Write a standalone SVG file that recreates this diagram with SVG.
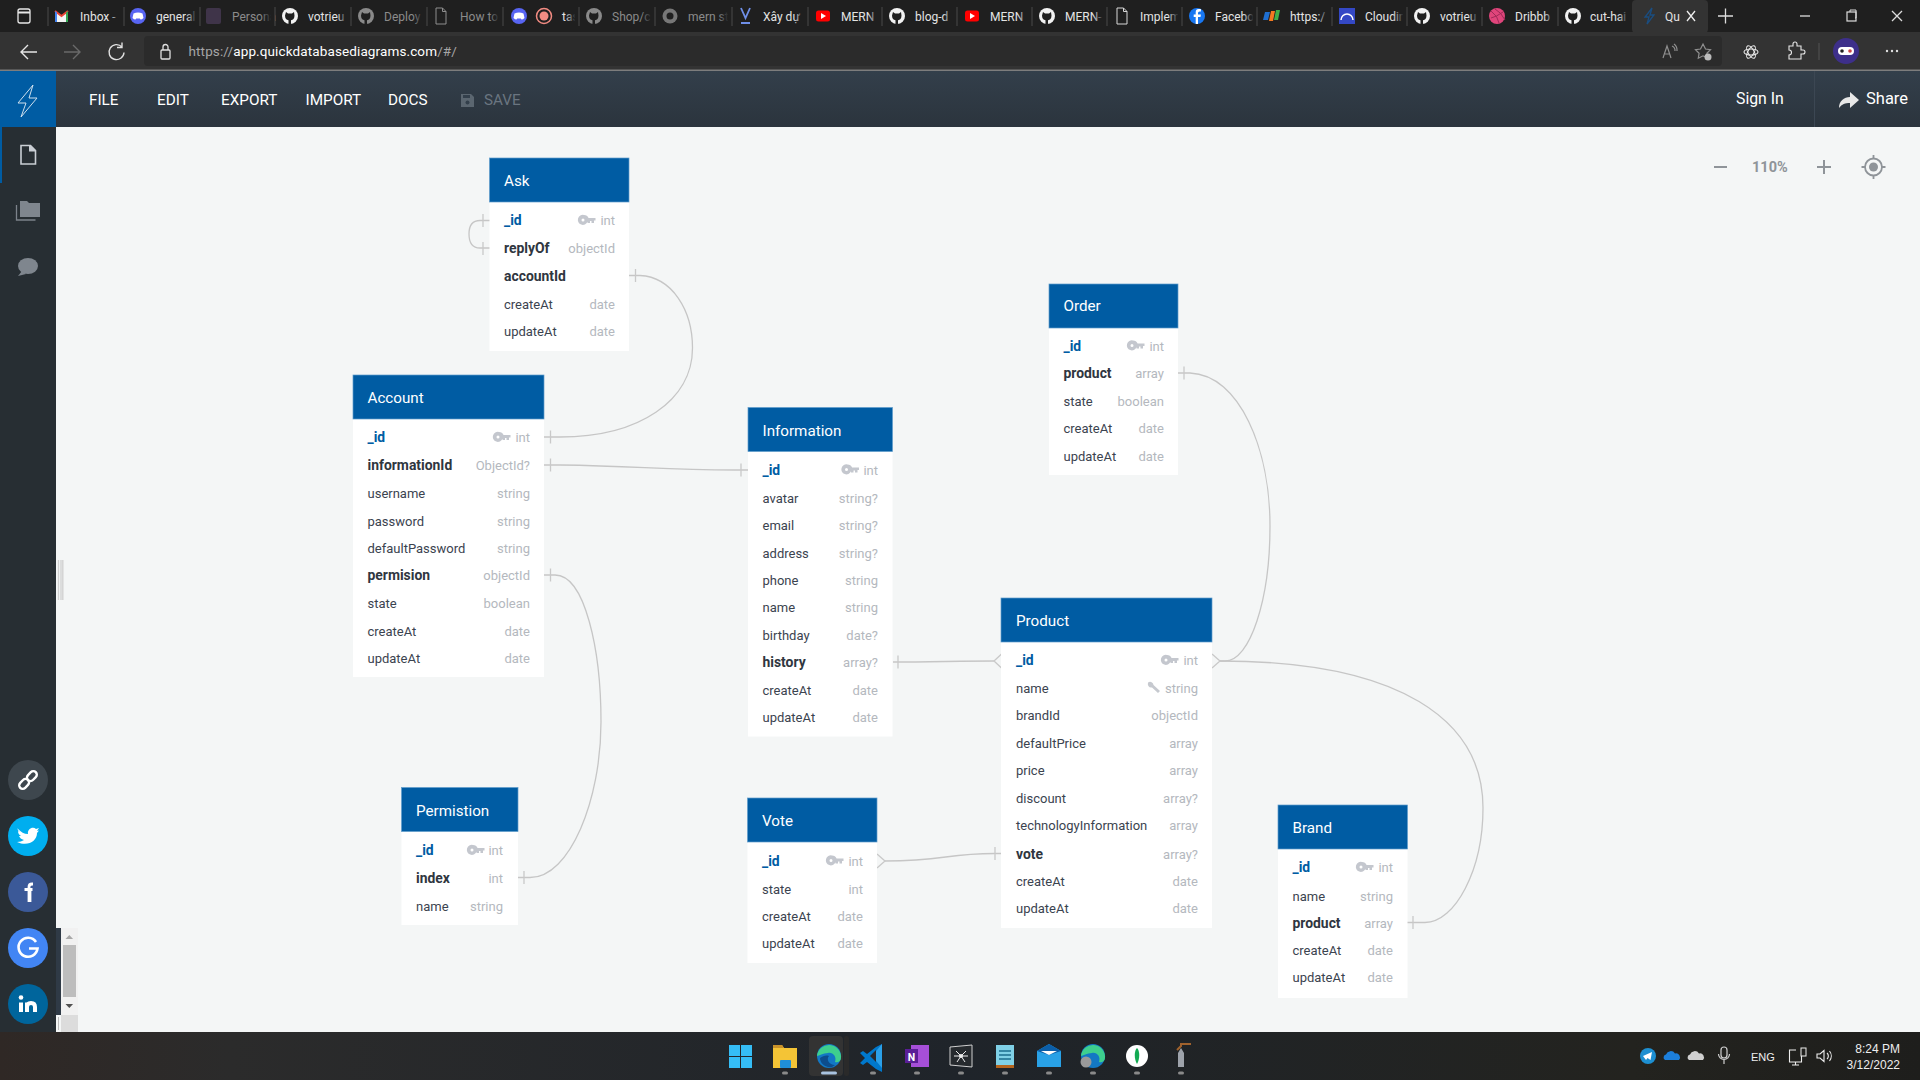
<svg xmlns="http://www.w3.org/2000/svg" xmlns:xlink="http://www.w3.org/1999/xlink" width="1920" height="1080" viewBox="0 0 1920 1080">
<style>
text{font-family:Roboto,"Liberation Sans",sans-serif}
.hd{fill:#005ca3;stroke:#5f9ccb;stroke-width:.7}
.bd{fill:#fff}
.tt{fill:#fff;font-size:15.2px}
.n{fill:#3b434f;font-size:13px}
.b{fill:#2f3640;font-size:13.9px;font-weight:700}
.p{fill:#005ca3;font-size:13.9px;font-weight:700}
.t{fill:#b4b8be;font-size:13px;text-anchor:end}
.c{fill:none;stroke:#c6c6c6;stroke-width:1.3}
.m{fill:#fff;font-size:15.3px}
.tb{fill:#e4e4e4;font-size:12px}
.td{fill:#8b8b8b;font-size:12px}
.sep{stroke:#4a4a4a;stroke-width:1}
.dot{fill:#8a8a8a}
.ti{fill:none;stroke:#c9c9c9;stroke-width:1.3}
.tr{fill:#eee;font-size:12px;font-family:"Liberation Sans",Arial,sans-serif}
</style>
<defs>
<linearGradient id="tbar" x1="0" y1="0" x2="0" y2="1"><stop offset="0" stop-color="#333f4b"/><stop offset="1" stop-color="#2b343d"/></linearGradient>
<linearGradient id="task" x1="0" y1="0" x2="1" y2="0"><stop offset="0" stop-color="#2f2825"/><stop offset=".12" stop-color="#2b2b2b"/><stop offset=".5" stop-color="#1f242a"/><stop offset=".85" stop-color="#23231f"/><stop offset="1" stop-color="#1e1e1c"/></linearGradient>
<linearGradient id="fade" x1="0" y1="0" x2="1" y2="0"><stop offset="0" stop-color="#1f1f1f" stop-opacity="0"/><stop offset=".75" stop-color="#1f1f1f"/></linearGradient>
<rect id="fd" x="-14" y="4" width="14" height="24" fill="url(#fade)"/>
<g id="key"><path fill="#c4c7ce" fill-rule="evenodd" d="M5 -.5a5 5 0 0 1 4.600 3H16.500v2.500h-1.500v2.500h-2.500V5.500h-1.500v2h-2.500V6.200A5 5 0 1 1 5 -.5zM4 3a1.500 1.500 0 1 0 0 3 1.500 1.500 0 0 0 0-3z"/></g>
<g id="gh"><circle r="8" fill="#f2f2f2"/><path d="M-4-4l2 1.500h4l2-1.500.5 3.500c0 3-1.500 4.500-3.500 4.800v3.700h-2.500v-3.700c-2-.3-3.500-1.800-3.500-4.800z" fill="#1f1f1f"/></g>
<g id="ghd"><circle r="8" fill="#8a8a8a"/><path d="M-4-4l2 1.500h4l2-1.500.5 3.500c0 3-1.500 4.500-3.500 4.800v3.700h-2.500v-3.700c-2-.3-3.500-1.800-3.500-4.800z" fill="#1f1f1f"/></g>
<g id="dc"><circle r="8" fill="#5865f2"/><path d="M-4.500-2.500q4.500-2 9 0l1 4.500q-1.500 1.500-3 1.500l-.7-1h-3.600l-.7 1q-1.500 0-3-1.500z" fill="#fff"/></g>
<g id="yt"><rect x="-7" y="-5.500" width="14" height="11" rx="2.500" fill="#f00"/><path d="M-2-3v6l5-3z" fill="#fff"/></g>
<g id="doc"><path d="M-5-8h6.500l3.500 3.500v12.500h-10z" fill="none" stroke="#d8d8d8" stroke-width="1"/><path d="M1.500-8v3.500h3.500" fill="none" stroke="#d8d8d8"/></g>
</defs>

<rect width="1920" height="1080" fill="#f4f6f6"/>

<!-- browser tabs -->
<rect width="1920" height="32" fill="#1f1f1f"/>
<g class="tabs">
<rect x="18" y="9" width="12" height="14" rx="2" fill="none" stroke="#e8e8e8" stroke-width="1.300"/><line x1="18" y1="12.500" x2="30" y2="12.500" stroke="#e8e8e8" stroke-width="2"/>
<path d="M55 22V11l6.500 5 6.500-5v11z" fill="#f4f4f4"/><path d="M55 11l6.500 5 6.500-5" fill="none" stroke="#ea4335" stroke-width="2"/><path d="M55 11v11h2V12.500z" fill="#4285f4"/><path d="M68 11v11h-2V12.500z" fill="#34a853"/>
<text class="tb" x="80" y="20.500">Inbox -</text>
<use xlink:href="#dc" href="#dc" x="138" y="16"/><text class="tb" x="156" y="20.500">general</text>
<rect x="206" y="8" width="15" height="16" rx="2" fill="#3f3449"/><text class="td" x="232" y="20.500">Persona</text>
<use xlink:href="#gh" href="#gh" x="290" y="16"/><text class="tb" x="308" y="20.500">votrieu</text>
<use xlink:href="#ghd" href="#ghd" x="366" y="16"/><text class="td" x="384" y="20.500">Deploy</text>
<use xlink:href="#doc" href="#doc" x="441" y="16" opacity=".6"/><text class="td" x="460" y="20.500">How to</text>
<use xlink:href="#dc" href="#dc" x="519" y="16"/><circle cx="544" cy="16" r="7.500" fill="none" stroke="#f28b82" stroke-width="1.500"/><circle cx="544" cy="16" r="4.500" fill="#f28b82"/><text class="tb" x="562" y="20.500">tas</text>
<use xlink:href="#ghd" href="#ghd" x="594" y="16"/><text class="td" x="612" y="20.500">Shop/c</text>
<circle cx="670" cy="16" r="7.500" fill="#777"/><circle cx="670" cy="16" r="3.500" fill="#1f1f1f"/><text class="td" x="688" y="20.500">mern st</text>
<path d="M741 8l4.500 10 4.500-10M741 23h9" fill="none" stroke="#6f8fe8" stroke-width="1.800"/><text class="tb" x="763" y="20.500">Xây dự</text>
<use xlink:href="#yt" href="#yt" x="823" y="16"/><text class="tb" x="841" y="20.500">MERN</text>
<use xlink:href="#gh" href="#gh" x="897" y="16"/><text class="tb" x="915" y="20.500">blog-d</text>
<use xlink:href="#yt" href="#yt" x="972" y="16"/><text class="tb" x="990" y="20.500">MERN</text>
<use xlink:href="#gh" href="#gh" x="1047" y="16"/><text class="tb" x="1065" y="20.500">MERN-</text>
<use xlink:href="#doc" href="#doc" x="1122" y="16"/><text class="tb" x="1140" y="20.500">Implem</text>
<circle cx="1197" cy="16" r="8" fill="#1877f2"/><path d="M1198 24v-7h2.500l.4-2.500h-2.900v-1.500q0-1.500 1.600-1.500h1.300V9h-2.200q-3 0-3 3v2.500h-2V17h2v7z" fill="#fff"/><text class="tb" x="1215" y="20.500">Facebo</text>
<path d="M1265 12h5l-2 8h-5z" fill="#1f6fd1"/><path d="M1271 11h4l-2 10h-4z" fill="#f47920"/><path d="M1276 10h4l-2 10h-4z" fill="#3fae49"/><text class="tb" x="1290" y="20.500">https:/</text>
<rect x="1339" y="8" width="16" height="16" fill="#3448c5"/><path d="M1341 20a6 6 0 0 1 12 0" fill="none" stroke="#fff" stroke-width="1.500"/><text class="tb" x="1365" y="20.500">Cloudin</text>
<use xlink:href="#gh" href="#gh" x="1422" y="16"/><text class="tb" x="1440" y="20.500">votrieu</text>
<circle cx="1497" cy="16" r="8" fill="#e0457b"/><path d="M1491 11q7 5 8 12M1503 12q-7 5-12 6M1495 9q6 3 10 11" fill="none" stroke="#a02a58" stroke-width="1"/><text class="tb" x="1515" y="20.500">Dribbb</text>
<use xlink:href="#gh" href="#gh" x="1573" y="16"/><text class="tb" x="1590" y="20.500">cut-hai</text>
<g><use href="#fd" xlink:href="#fd" x="124"/><use href="#fd" xlink:href="#fd" x="200"/><use href="#fd" xlink:href="#fd" x="275"/><use href="#fd" xlink:href="#fd" x="351"/><use href="#fd" xlink:href="#fd" x="427"/><use href="#fd" xlink:href="#fd" x="503"/><use href="#fd" xlink:href="#fd" x="579"/><use href="#fd" xlink:href="#fd" x="655"/><use href="#fd" xlink:href="#fd" x="732"/><use href="#fd" xlink:href="#fd" x="808"/><use href="#fd" xlink:href="#fd" x="882"/><use href="#fd" xlink:href="#fd" x="957"/><use href="#fd" xlink:href="#fd" x="1032"/><use href="#fd" xlink:href="#fd" x="1107"/><use href="#fd" xlink:href="#fd" x="1182"/><use href="#fd" xlink:href="#fd" x="1257"/><use href="#fd" xlink:href="#fd" x="1332"/><use href="#fd" xlink:href="#fd" x="1407"/><use href="#fd" xlink:href="#fd" x="1482"/><use href="#fd" xlink:href="#fd" x="1558"/><use href="#fd" xlink:href="#fd" x="1632"/></g>
<g class="sep"><line x1="48" y1="7" x2="48" y2="26"/><line x1="124" y1="7" x2="124" y2="26"/><line x1="200" y1="7" x2="200" y2="26"/><line x1="275" y1="7" x2="275" y2="26"/><line x1="351" y1="7" x2="351" y2="26"/><line x1="427" y1="7" x2="427" y2="26"/><line x1="503" y1="7" x2="503" y2="26"/><line x1="579" y1="7" x2="579" y2="26"/><line x1="655" y1="7" x2="655" y2="26"/><line x1="732" y1="7" x2="732" y2="26"/><line x1="808" y1="7" x2="808" y2="26"/><line x1="882" y1="7" x2="882" y2="26"/><line x1="957" y1="7" x2="957" y2="26"/><line x1="1032" y1="7" x2="1032" y2="26"/><line x1="1107" y1="7" x2="1107" y2="26"/><line x1="1182" y1="7" x2="1182" y2="26"/><line x1="1257" y1="7" x2="1257" y2="26"/><line x1="1332" y1="7" x2="1332" y2="26"/><line x1="1407" y1="7" x2="1407" y2="26"/><line x1="1482" y1="7" x2="1482" y2="26"/><line x1="1558" y1="7" x2="1558" y2="26"/></g>
<rect x="1632" y="0" width="76" height="33" rx="4" fill="#333"/>
<path d="M1652 8l-7 9h4l-2 7 7-9h-4z" fill="none" stroke="#1a4d80" stroke-width="1.300"/><text class="tb" x="1665" y="20.500" fill="#fff">Qu</text>
<path d="M1687 11l8 10M1695 11l-8 10" stroke="#eee" stroke-width="1.300"/>
<path d="M1718 16h15M1725.500 8.500v15" stroke="#ddd" stroke-width="1.300"/>
<path d="M1800 16h10" stroke="#ddd" stroke-width="1.300"/>
<rect x="1847" y="12" width="9" height="9" fill="none" stroke="#ddd" stroke-width="1.200"/><path d="M1850 12v-2h6v8h-1" fill="none" stroke="#ddd"/>
<path d="M1892 11l10 10M1902 11l-10 10" stroke="#ddd" stroke-width="1.300"/>
</g>

<!-- address bar -->
<rect y="32" width="1920" height="38" fill="#333"/>
<rect x="144" y="36" width="1578" height="30" rx="4" fill="#2b2b2b"/>
<rect y="69.500" width="1920" height="1.500" fill="#7d7d7d"/>
<path d="M37 52H21M28 45l-7 7 7 7" fill="none" stroke="#e6e6e6" stroke-width="1.400"/>
<path d="M64 52h16M73 45l7 7-7 7" fill="none" stroke="#6a6a6a" stroke-width="1.400"/>
<path d="M122 47a7.500 7.500 0 1 0 2 5.500M122 42.500v5h-5" fill="none" stroke="#e0e0e0" stroke-width="1.400"/>
<rect x="161" y="50" width="9" height="9" rx="1" fill="none" stroke="#e0e0e0" stroke-width="1.300"/><path d="M163 50v-3a2.500 2.500 0 0 1 5 0v3" fill="none" stroke="#e0e0e0" stroke-width="1.300"/>
<text x="188.500" y="56" font-size="13.500" fill="#a6a6a6" letter-spacing=".12">https://<tspan fill="#fff">app.quickdatabasediagrams.com</tspan>/#/</text>
<g fill="none" stroke="#8f8f8f" stroke-width="1.200"><path d="M1663 58l4-12 4 12M1665 54h5"/><path d="M1672 46a5 5 0 0 1 3 5M1674 44a8 8 0 0 1 3 7"/><path d="M1703 44l2.500 5 5 .7-3.600 3.500.8 5-4.700-2.400-4.700 2.400.8-5-3.600-3.500 5-.7z"/></g>
<circle cx="1708" cy="57" r="3.500" fill="#bbb"/>
<g fill="none" stroke="#e8e8e8" stroke-width="1.100"><ellipse cx="1751" cy="52" rx="7" ry="3"/><ellipse cx="1751" cy="52" rx="7" ry="3" transform="rotate(60 1751 52)"/><ellipse cx="1751" cy="52" rx="7" ry="3" transform="rotate(120 1751 52)"/><path d="M1789 46h4v-2a2 2 0 0 1 4 0v2h4v4h2a2 2 0 0 1 0 4h-2v5h-12v-4a2 2 0 0 0 0-5z"/></g>
<line x1="1819" y1="43" x2="1819" y2="60" stroke="#555"/>
<circle cx="1846" cy="51" r="13" fill="#3d2f8a"/><rect x="1838" y="47" width="16" height="8" rx="4" fill="#fff"/><circle cx="1842" cy="51" r="1.800" fill="#222"/><circle cx="1850" cy="51" r="1.800" fill="#c44"/>
<g fill="#e0e0e0"><circle cx="1887" cy="51" r="1.200"/><circle cx="1892" cy="51" r="1.200"/><circle cx="1897" cy="51" r="1.200"/></g>

<!-- app bar -->
<rect y="71" width="1920" height="56" fill="url(#tbar)"/>
<rect y="71" width="56" height="56" fill="#005ca3"/>
<path d="M33 85L18 103h8l-5 14 16-19h-8z" fill="none" stroke="#cfe0ee" stroke-width="1"/>
<text class="m" x="89" y="104.500">FILE</text><text class="m" x="157" y="104.500">EDIT</text><text class="m" x="221" y="104.500">EXPORT</text><text class="m" x="305.500" y="104.500">IMPORT</text><text class="m" x="388" y="104.500">DOCS</text>
<path d="M461 94h10l3 3v10h-13z" fill="#5b6670"/><circle cx="467.500" cy="102.500" r="2" fill="#333f4b"/><rect x="463" y="95" width="7" height="3" fill="#333f4b"/>
<text x="484" y="104.500" font-size="15.200" fill="#6a7580">SAVE</text>
<text class="m" x="1736" y="104" style="font-size:15.800px">Sign In</text>
<line x1="1814.500" y1="71" x2="1814.500" y2="127" stroke="#3c4753"/>
<path d="M1839 108c0-7 5-11 11-11v-5l9 8-9 8v-5c-5 0-8 1-11 5z" fill="#e8e8e8"/>
<text class="m" x="1866" y="104" style="font-size:16.500px">Share</text>

<!-- sidebar -->
<rect y="127" width="56" height="905" fill="#272e33"/>
<rect y="127" width="2" height="56" fill="#005ca3"/>
<path d="M21 145.500h9.500l5 5v13.500h-14.500z" fill="none" stroke="#c9ced4" stroke-width="1.600"/><path d="M29 145.500h1.500l5 5v1h-6.500z" fill="#c9ced4"/>
<path d="M16.500 205v15h19" fill="none" stroke="#7c838b" stroke-width="1.300"/><path d="M20 217v-16h7l2 2h11v14z" fill="#7f868e"/>
<ellipse cx="28" cy="266" rx="10" ry="8" fill="#7f868e"/><path d="M22 271l-4 5 8-2z" fill="#7f868e"/>
<g id="social">
<circle cx="28" cy="780" r="20" fill="#3e474e"/>
<g fill="none" stroke="#fff" stroke-width="2.400" transform="rotate(-45 28 780)"><rect x="17" y="776.500" width="11" height="7" rx="3.500"/><rect x="28" y="776.500" width="11" height="7" rx="3.500"/></g>
<circle cx="28" cy="836" r="20" fill="#00aeef"/>
<path d="M18 829c3 3 6 5 10 5-1-5 5-8 8-5l3-1-2 3 2-.5-2 2.500c0 8-9 14-20 9 3 0 5-1 7-2-3-1-4-2-5-4h2c-2-1-3-3-3-5l2 1c-2-1-3-3-2-4z" fill="#fff"/>
<circle cx="28" cy="892" r="20" fill="#3b5998"/>
<path d="M30 902v-12M24.500 889.500h8M33 884h-1q-3 0-3 3v15" fill="none" stroke="#fff" stroke-width="2.800"/>
<circle cx="28" cy="948" r="20" fill="#4285f4"/>
<path d="M36 942a9.500 9.500 0 1 0 1.500 6.500H29" fill="none" stroke="#fff" stroke-width="2.600"/>
<circle cx="28" cy="1004" r="20" fill="#00659c"/>
<path d="M21 1002.500V1012" stroke="#fff" stroke-width="4" fill="none"/><circle cx="21" cy="997.500" r="2.300" fill="#fff"/><path d="M27 1012v-9.500M27 1007q0-4 4-4t4 4v5" fill="none" stroke="#fff" stroke-width="4"/>
</g>

<!-- canvas handle, scrollbar -->
<g stroke="#cfcfcf" stroke-width="1.300"><line x1="58.500" y1="560" x2="58.500" y2="600"/><line x1="61" y1="560" x2="61" y2="600"/><line x1="62.800" y1="560" x2="62.800" y2="600"/></g>
<rect x="56" y="928" width="5" height="87" fill="#2f3a46"/>
<rect x="61" y="928" width="17" height="87" fill="#f1f1f1"/>
<path d="M65.500 939l3.800-4 3.800 4z" fill="#a8a8a8"/>
<rect x="63" y="945" width="13" height="52" fill="#bdbdbd"/>
<path d="M65.500 1004l3.800 4 3.800-4z" fill="#505050"/>
<rect x="61" y="1015" width="17" height="17" fill="#dcdcdc"/>
<rect x="56" y="1015" width="5" height="17" fill="#f4f6f6"/><line x1="58.500" y1="1017" x2="58.500" y2="1030" stroke="#bbb"/>

<!-- zoom controls -->
<g id="zoomctl"><path d="M1714 167h13M1817 167h14M1824 160v14" stroke="#8f9499" stroke-width="2"/>
<text x="1752" y="171.500" font-size="14.500" font-weight="700" fill="#8f9499">110%</text>
<circle cx="1873.500" cy="167" r="8.500" fill="none" stroke="#8f9499" stroke-width="1.800"/><circle cx="1873.500" cy="167" r="4.500" fill="#8f9499"/><path d="M1873.500 155v3.500M1873.500 175.500v3.500M1861.500 167h3.500M1882 167h3.500" stroke="#8f9499" stroke-width="1.800"/></g>

<!-- connectors -->
<g id="connectors" class="connectors">
<path class="c" d="M490 220.500H480C472 220.500 469 225 469 234C469 243 472 248 480 248H490"/>
<path class="ti" d="M483 214v13M483 242v13"/>
<path class="c" d="M629 275.500H640C672 277 692.500 310 692.500 348C692.500 400 640 437 560 437H544"/>
<path class="ti" d="M635.500 269v13M550.500 430.500v13"/>
<path class="c" d="M544 465H560C640 466 660 470 735 470H748"/>
<path class="ti" d="M550.500 458.500v13M741 463.500v13"/>
<path class="c" d="M544 575H555C585 575 601 650 601 722C601 800 570 877.500 530 877.500H518"/>
<path class="ti" d="M550.500 568.500v13M524 871v13"/>
<path class="c" d="M893 662C930 662 960 661 994 661"/>
<path class="ti" d="M898 655.500v13M1001.500 654L994 661L1001.500 668"/>
<path class="c" d="M1178 373H1190C1240 375 1270 450 1270 526C1270 600 1250 661 1225 661H1220"/>
<path class="ti" d="M1184 366.500v13"/>
<path class="c" d="M1407 922.500H1425C1455 922.500 1483 870 1483 808C1483 720 1400 661 1220 661"/>
<path class="ti" d="M1413 916v13M1212 654L1220 661L1212 668"/>
<path class="c" d="M885 861C945 861 945 853.500 995 853.500H1001"/>
<path class="ti" d="M877 854L885 861L877 868M995 847v13"/>
</g>

<g id="ask">
<rect class="bd" x="489.500" y="158" width="139.500" height="193"/><rect class="hd" x="489.500" y="158" width="139.500" height="44"/>
<text class="tt" x="504" y="186">Ask</text>
<text class="p" x="504" y="225">_id</text><use href="#key" xlink:href="#key" x="579" y="215.500"/><text class="t" x="615" y="225">int</text>
<text class="b" x="504" y="253">replyOf</text><text class="t" x="615" y="253">objectId</text>
<text class="b" x="504" y="280.500">accountId</text>
<text class="n" x="504" y="308.500">createAt</text><text class="t" x="615" y="308.500">date</text>
<text class="n" x="504" y="335.500">updateAt</text><text class="t" x="615" y="335.500">date</text>
</g>
<g id="account">
<rect class="bd" x="353" y="375" width="191" height="302"/><rect class="hd" x="353" y="375" width="191" height="44"/>
<text class="tt" x="367.500" y="403">Account</text>
<text class="p" x="367.500" y="442">_id</text><use href="#key" xlink:href="#key" x="494" y="432.500"/><text class="t" x="530" y="442">int</text>
<text class="b" x="367.500" y="470">informationId</text><text class="t" x="530" y="470">ObjectId?</text>
<text class="n" x="367.500" y="497.500">username</text><text class="t" x="530" y="497.500">string</text>
<text class="n" x="367.500" y="525.500">password</text><text class="t" x="530" y="525.500">string</text>
<text class="n" x="367.500" y="552.500">defaultPassword</text><text class="t" x="530" y="552.500">string</text>
<text class="b" x="367.500" y="580">permision</text><text class="t" x="530" y="580">objectId</text>
<text class="n" x="367.500" y="607.500">state</text><text class="t" x="530" y="607.500">boolean</text>
<text class="n" x="367.500" y="635.500">createAt</text><text class="t" x="530" y="635.500">date</text>
<text class="n" x="367.500" y="662.500">updateAt</text><text class="t" x="530" y="662.500">date</text>
</g>
<g id="information">
<rect class="bd" x="748" y="407.500" width="144.500" height="329"/><rect class="hd" x="748" y="407.500" width="144.500" height="44"/>
<text class="tt" x="762.500" y="435.500">Information</text>
<text class="p" x="762.500" y="474.500">_id</text><use href="#key" xlink:href="#key" x="842.500" y="465"/><text class="t" x="878" y="474.500">int</text>
<text class="n" x="762.500" y="502.500">avatar</text><text class="t" x="878" y="502.500">string?</text>
<text class="n" x="762.500" y="529.500">email</text><text class="t" x="878" y="529.500">string?</text>
<text class="n" x="762.500" y="557.500">address</text><text class="t" x="878" y="557.500">string?</text>
<text class="n" x="762.500" y="584.500">phone</text><text class="t" x="878" y="584.500">string</text>
<text class="n" x="762.500" y="612">name</text><text class="t" x="878" y="612">string</text>
<text class="n" x="762.500" y="639.500">birthday</text><text class="t" x="878" y="639.500">date?</text>
<text class="b" x="762.500" y="667">history</text><text class="t" x="878" y="667">array?</text>
<text class="n" x="762.500" y="694.500">createAt</text><text class="t" x="878" y="694.500">date</text>
<text class="n" x="762.500" y="722">updateAt</text><text class="t" x="878" y="722">date</text>
</g>
<g id="order">
<rect class="bd" x="1049" y="284" width="129" height="191"/><rect class="hd" x="1049" y="284" width="129" height="44"/>
<text class="tt" x="1063.500" y="311">Order</text>
<text class="p" x="1063.500" y="350.500">_id</text><use href="#key" xlink:href="#key" x="1128" y="341"/><text class="t" x="1164" y="350.500">int</text>
<text class="b" x="1063.500" y="378">product</text><text class="t" x="1164" y="378">array</text>
<text class="n" x="1063.500" y="405.500">state</text><text class="t" x="1164" y="405.500">boolean</text>
<text class="n" x="1063.500" y="433">createAt</text><text class="t" x="1164" y="433">date</text>
<text class="n" x="1063.500" y="460.500">updateAt</text><text class="t" x="1164" y="460.500">date</text>
</g>
<g id="product">
<rect class="bd" x="1001" y="598" width="211" height="330"/><rect class="hd" x="1001" y="598" width="211" height="44"/>
<text class="tt" x="1016" y="626">Product</text>
<text class="p" x="1016" y="665">_id</text><use href="#key" xlink:href="#key" x="1162" y="655.500"/><text class="t" x="1198" y="665">int</text>
<text class="n" x="1016" y="693">name</text><path d="M1149 682a3.500 3.500 0 0 1 4.500 3l6.500 6-2 2-6-5.500a3.500 3.500 0 0 1-3.500-5.500z" fill="#c6c9cf"/><text class="t" x="1198" y="693">string</text>
<text class="n" x="1016" y="720">brandId</text><text class="t" x="1198" y="720">objectId</text>
<text class="n" x="1016" y="748">defaultPrice</text><text class="t" x="1198" y="748">array</text>
<text class="n" x="1016" y="775">price</text><text class="t" x="1198" y="775">array</text>
<text class="n" x="1016" y="803">discount</text><text class="t" x="1198" y="803">array?</text>
<text class="n" x="1016" y="830">technologyInformation</text><text class="t" x="1198" y="830">array</text>
<text class="b" x="1016" y="858.500">vote</text><text class="t" x="1198" y="858.500">array?</text>
<text class="n" x="1016" y="885.500">createAt</text><text class="t" x="1198" y="885.500">date</text>
<text class="n" x="1016" y="913">updateAt</text><text class="t" x="1198" y="913">date</text>
</g>
<g id="brand">
<rect class="bd" x="1278" y="805" width="129.500" height="193"/><rect class="hd" x="1278" y="805" width="129.500" height="44"/>
<text class="tt" x="1292.500" y="833">Brand</text>
<text class="p" x="1292.500" y="872">_id</text><use href="#key" xlink:href="#key" x="1357" y="862.500"/><text class="t" x="1393" y="872">int</text>
<text class="n" x="1292.500" y="900.500">name</text><text class="t" x="1393" y="900.500">string</text>
<text class="b" x="1292.500" y="927.500">product</text><text class="t" x="1393" y="927.500">array</text>
<text class="n" x="1292.500" y="955">createAt</text><text class="t" x="1393" y="955">date</text>
<text class="n" x="1292.500" y="982">updateAt</text><text class="t" x="1393" y="982">date</text>
</g>
<g id="permistion">
<rect class="bd" x="401.500" y="787.500" width="116.500" height="137.500"/><rect class="hd" x="401.500" y="787.500" width="116.500" height="44"/>
<text class="tt" x="416" y="815.500">Permistion</text>
<text class="p" x="416" y="855">_id</text><use href="#key" xlink:href="#key" x="468" y="845.500"/><text class="t" x="503" y="855">int</text>
<text class="b" x="416" y="882.500">index</text><text class="t" x="503" y="882.500">int</text>
<text class="n" x="416" y="910.500">name</text><text class="t" x="503" y="910.500">string</text>
</g>
<g id="vote">
<rect class="bd" x="747.500" y="798" width="129.500" height="165"/><rect class="hd" x="747.500" y="798" width="129.500" height="44"/>
<text class="tt" x="762" y="826">Vote</text>
<text class="p" x="762" y="865.500">_id</text><use href="#key" xlink:href="#key" x="827" y="856"/><text class="t" x="863" y="865.500">int</text>
<text class="n" x="762" y="893.500">state</text><text class="t" x="863" y="893.500">int</text>
<text class="n" x="762" y="920.500">createAt</text><text class="t" x="863" y="920.500">date</text>
<text class="n" x="762" y="948">updateAt</text><text class="t" x="863" y="948">date</text>
</g>

<!-- taskbar -->
<rect y="1032" width="1920" height="48" fill="url(#task)"/>
<rect x="809" y="1036" width="34" height="40" rx="4" fill="#333"/><rect x="844" y="1036" width="5" height="40" rx="2" fill="#2a2a2a"/>
<g id="taskicons">
<g fill="#35bdf6"><rect x="729" y="1045" width="11" height="11"/><rect x="741" y="1045" width="11" height="11"/><rect x="729" y="1057" width="11" height="11"/><rect x="741" y="1057" width="11" height="11"/></g>
<path d="M773 1045h9l2 3h13v20h-24z" fill="#f4c436"/><path d="M773 1045h9l2 3h-11z" fill="#c9922a"/><rect x="780" y="1060" width="11" height="8" rx="1" fill="#1f8fd8"/>
<circle cx="829" cy="1056" r="12" fill="#1378c4"/><path d="M817 1056a12 12 0 0 1 24 2c0 3-3 5-6 4 2-5-2-10-7-9-5 0-9 3-11 3z" fill="#3ecf8e"/><path d="M829 1056c-3 3 0 9 6 9l-3 2c-7 1-12-4-12-9 3-2 6-3 9-2z" fill="#0d4d8c"/>
<path d="M882 1044l-6 3-9 7-4-3-3 2 5 5-5 5 3 2 4-3 9 7 6 3z" fill="#0078cc"/><path d="M882 1044v24l-10-12z" fill="#2ba0e8"/><path d="M876 1050v12l-6-6z" fill="#262a2e"/>
<rect x="911" y="1045" width="18" height="22" fill="#a64fd8"/><rect x="905" y="1049" width="13" height="14" fill="#5a1e96"/><text x="911.500" y="1060.500" font-size="10.500" font-weight="700" fill="#fff" text-anchor="middle">N</text>
<path d="M950 1047l22-2v22l-22-2z" fill="#262a2e" stroke="#cfcfcf"/><path d="M961 1056l-5-5M961 1056l5-5M961 1056h-7M961 1056h7M961 1056l-4 6M961 1056l4 6" stroke="#eee"/><circle cx="961" cy="1056" r="2" fill="#eee"/>
<rect x="996" y="1045" width="18" height="23" fill="#7fd0e6"/><rect x="996" y="1065" width="18" height="3" fill="#b5651d"/><path d="M999 1051h12M999 1055h12M999 1059h12" stroke="#1c6d8e" stroke-width="1.500"/>
<path d="M1037 1051l12-7 12 7v16h-24z" fill="#29a1e6"/><path d="M1037 1051l12-7 12 7-12 4z" fill="#0b5ea8"/><path d="M1041 1051h16l-8 4z" fill="#fff"/>
<circle cx="1093" cy="1056" r="12" fill="#1378c4"/><path d="M1081 1056a12 12 0 0 1 24 2c0 3-3 5-6 4 2-5-2-10-7-9-5 0-9 3-11 3z" fill="#3ecf8e"/><circle cx="1086" cy="1062" r="5.500" fill="#9a9a9a"/>
<circle cx="1137" cy="1056" r="11" fill="#fff"/><path d="M1137 1048c3 3 3 11 0 16-3-5-3-13 0-16z" fill="#13aa52"/>
<path d="M1177 1050l4-4v-2h10" stroke="#a0622d" stroke-width="2" fill="none"/><path d="M1178 1067v-14l3-5 3 5v14z" fill="#9ea3ab"/>
<g class="dot"><rect x="782" y="1071.500" width="6" height="3" rx="1.500"/><rect x="821" y="1071.500" width="16" height="3" rx="1.500" fill="#a9c3e0"/><rect x="870" y="1071.500" width="6" height="3" rx="1.500"/><rect x="914" y="1071.500" width="6" height="3" rx="1.500"/><rect x="958" y="1071.500" width="6" height="3" rx="1.500"/><rect x="1002" y="1071.500" width="6" height="3" rx="1.500"/><rect x="1046" y="1071.500" width="6" height="3" rx="1.500"/><rect x="1090" y="1071.500" width="6" height="3" rx="1.500"/><rect x="1134" y="1071.500" width="6" height="3" rx="1.500"/><rect x="1178" y="1071.500" width="6" height="3" rx="1.500"/></g>
</g>
<g id="tray">
<circle cx="1648" cy="1056" r="8" fill="#1d8fd1"/><path d="M1643 1056l9-4-1.500 8-3-2-1.500 2z" fill="#fff"/>
<path d="M1665 1060a3 3 0 0 1 1-5.500 5 5 0 0 1 9-1 4 4 0 0 1 4 6.500z" fill="#1c7fdb"/>
<path d="M1689 1060a3 3 0 0 1 1-5.500 5 5 0 0 1 9-1 4 4 0 0 1 4 6.500z" fill="#cfcfcf"/>
<rect x="1721" y="1047" width="6" height="11" rx="3" fill="none" stroke="#cfcfcf" stroke-width="1.200"/><path d="M1718.500 1054a5.500 5.500 0 0 0 11 0M1724 1060v4" fill="none" stroke="#cfcfcf" stroke-width="1.200"/>
<text class="tr" x="1751" y="1061" style="font-size:11px">ENG</text>
<path d="M1796 1050h-6.500v12h12v-6M1792 1065h7M1795.500 1062v3" fill="none" stroke="#eee" stroke-width="1.100"/><rect x="1801" y="1048" width="5" height="8" fill="none" stroke="#eee"/>
<path d="M1817 1054v4h3l4 3.500v-11l-4 3.500zM1827 1053a4 4 0 0 1 0 6M1829.500 1051a8 8 0 0 1 0 10" fill="none" stroke="#eee" stroke-width="1.100"/>
<text class="tr" x="1900" y="1053" text-anchor="end">8:24 PM</text>
<text class="tr" x="1900" y="1069" text-anchor="end">3/12/2022</text>
</g>
</svg>
